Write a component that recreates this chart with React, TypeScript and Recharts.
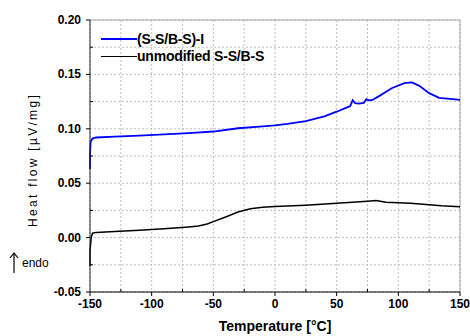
import React from 'react';
import { LineChart, Line, XAxis, YAxis, CartesianGrid, ReferenceLine } from 'recharts';

// (S-S/B-S)-I run, temperature in °C and heat flow in µV/mg
const modTemp = [-150, -150, -149.5, -148, -145, -130, -110, -90, -70, -50, -30, -10, 0, 10, 25, 40, 50, 58, 61, 63, 65, 68, 72, 74, 76, 79, 85, 95, 105, 111, 117, 125, 133, 142, 150];
const modFlow = [0.063, 0.075, 0.088, 0.091, 0.092, 0.0928, 0.0937, 0.0948, 0.096, 0.0975, 0.1005, 0.1022, 0.1032, 0.1045, 0.107, 0.1115, 0.1157, 0.1195, 0.121, 0.1262, 0.1235, 0.1232, 0.1238, 0.1272, 0.1262, 0.1265, 0.1305, 0.1375, 0.142, 0.1427, 0.1395, 0.1328, 0.1285, 0.1275, 0.1265];

// unmodified S-S/B-S run
const unmodTemp = [-150, -150, -149, -148, -145, -130, -110, -90, -70, -62, -55, -50, -40, -30, -20, -10, 0, 25, 50, 75, 82, 90, 110, 135, 150];
const unmodFlow = [-0.026, -0.012, 0.0, 0.004, 0.0048, 0.0055, 0.0068, 0.0082, 0.0098, 0.0106, 0.0125, 0.0147, 0.019, 0.0235, 0.0265, 0.0278, 0.0285, 0.0297, 0.0315, 0.0335, 0.034, 0.0325, 0.0315, 0.0293, 0.0284];

const xTicks = [-150, -125, -100, -75, -50, -25, 0, 25, 50, 75, 100, 125, 150];
const yTicks = [-0.05, -0.025, 0, 0.025, 0.05, 0.075, 0.1, 0.125, 0.15, 0.175, 0.2];

const seriesNames = ['(S-S/B-S)-I', 'unmodified S-S/B-S'];
const seriesColors = ['#0000ff', '#000000'];

const FONT = '"Liberation Sans", Arial, sans-serif';

const modData = modTemp.map((t, i) => ({ t, v: modFlow[i] }));
const unmodData = unmodTemp.map((t, i) => ({ t, v: unmodFlow[i] }));

const XTick = (props: any) => {
  const { x, y, payload } = props;
  const major = payload.value % 50 === 0;
  return (
    <g>
      <line x1={x} x2={x} y1={major ? y : y - 3} y2={major ? y + 4 : y} stroke="#000" />
      {major && (
        <text x={x} y={y + 16} textAnchor="middle" fontSize={12} fontWeight="bold" fontFamily={FONT} fill="#000">
          {payload.value}
        </text>
      )}
    </g>
  );
};

const YTick = (props: any) => {
  const { x, y, payload } = props;
  const major = Math.round(payload.value * 1000) % 50 === 0;
  return (
    <g>
      <line x1={major ? x - 4 : x} x2={major ? x : x + 3} y1={y} y2={y} stroke="#000" />
      {major && (
        <text x={x - 9} y={y + 4} textAnchor="end" fontSize={12} fontWeight="bold" fontFamily={FONT} fill="#000">
          {payload.value.toFixed(2)}
        </text>
      )}
    </g>
  );
};

export default function App() {
  return (
    <div style={{ position: 'relative', width: 470, height: 336, background: '#fff', fontFamily: FONT }}>
      <style>{'body{margin:0}'}</style>
      <LineChart width={470} height={336} margin={{ top: 20, right: 10, bottom: 0, left: 0 }}>
        <CartesianGrid stroke="#bdbdbd" strokeDasharray="2 2" />
        <XAxis
          type="number"
          dataKey="t"
          domain={[-150, 150]}
          ticks={xTicks}
          interval={0}
          tickSize={0}
          tickMargin={0}
          tickLine={false}
          tick={<XTick />}
          height={44}
          stroke="#000"
          allowDuplicatedCategory={false}
          label={{ value: 'Temperature [°C]', position: 'insideBottom', offset: 5, fontSize: 14, fontWeight: 'bold', fill: '#000', fontFamily: FONT }}
        />
        <YAxis
          type="number"
          domain={[-0.05, 0.2]}
          ticks={yTicks}
          interval={0}
          tickSize={0}
          tickMargin={0}
          tickLine={false}
          tick={<YTick />}
          width={90}
          stroke="#222"
          allowDataOverflow
        />
        <ReferenceLine y={0.2} stroke="#a8a8a8" />
        <ReferenceLine x={150} stroke="#a8a8a8" />
        <Line data={modData} dataKey="v" type="linear" stroke={seriesColors[0]} strokeWidth={1.8} dot={false} isAnimationActive={false} />
        <Line data={unmodData} dataKey="v" type="linear" stroke={seriesColors[1]} strokeWidth={1.5} dot={false} isAnimationActive={false} />
      </LineChart>

      {/* legend */}
      {seriesNames.map((name, i) => (
        <div key={name} style={{ position: 'absolute', left: 101, top: 31 + i * 17, display: 'flex', alignItems: 'center', height: 16 }}>
          <div style={{ width: 36, height: 0, borderTop: `${i === 0 ? 2 : 1.5}px solid ${seriesColors[i]}` }} />
          <span style={{ fontSize: 14, fontWeight: 'bold', color: '#000', lineHeight: '16px', letterSpacing: -0.2 }}>{name}</span>
        </div>
      ))}

      {/* y axis title */}
      <div
        style={{
          position: 'absolute',
          left: 33,
          top: 160,
          transform: 'translate(-50%, -50%) rotate(-90deg)',
          whiteSpace: 'nowrap',
          fontSize: 12,
          letterSpacing: 2.3,
          color: '#000',
        }}
      >
        Heat flow [µV/mg]
      </div>

      {/* endo marker */}
      <svg style={{ position: 'absolute', left: 8, top: 251 }} width={14} height={24}>
        <line x1={6} y1={2} x2={6} y2={22} stroke="#000" strokeWidth={1.2} />
        <polyline points="2,7 6,2 10,7" fill="none" stroke="#000" strokeWidth={1.2} />
      </svg>
      <div style={{ position: 'absolute', left: 22, top: 256, fontSize: 12, color: '#000' }}>endo</div>
    </div>
  );
}
